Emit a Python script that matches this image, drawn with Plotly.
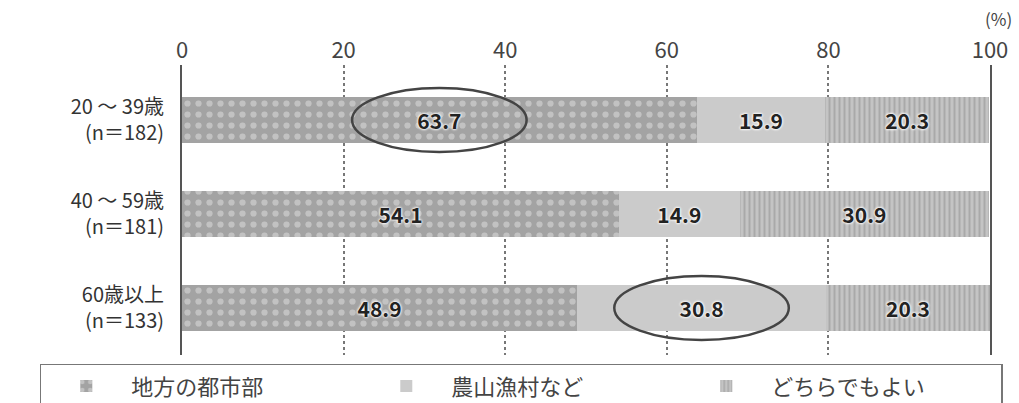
import plotly.graph_objects as go

categories = ["20 〜 39歳<br>(n＝182)", "40 〜 59歳<br>(n＝181)", "60歳以上<br>(n＝133)"]
series_names = ["地方の都市部", "農山漁村など", "どちらでもよい"]
city = [63.7, 54.1, 48.9]
rural = [15.9, 14.9, 30.8]
either = [20.3, 30.9, 20.3]
tick_vals = [0, 20, 40, 60, 80, 100]

FONT = "Noto Sans CJK JP"
label_font = dict(family=FONT, size=21, color="#222", weight="bold",
                  shadow="0px 0px 3px white, 0px 0px 3px white, 0px 0px 2px white")

fig = go.Figure()
styles = [
    dict(color="#a3a3a3", pattern=dict(shape=".", fgcolor="#e2e2e2", bgcolor="#a3a3a3", size=11, solidity=0.25)),
    dict(color="#cbcbcb"),
    dict(color="#bdbdbd", pattern=dict(shape="|", fgcolor="#8e8e8e", bgcolor="#c4c4c4", size=5, solidity=0.4)),
]
for name, vals, st in zip(series_names, [city, rural, either], styles):
    fig.add_trace(go.Bar(
        y=categories, x=vals, name=name, orientation="h",
        marker=dict(line=dict(width=0), **st),
        text=[f"{v:.1f}" for v in vals], textposition="inside",
        insidetextanchor="middle", textfont=label_font,
        hoverinfo="skip",
    ))

# highlight ellipses around notable values
def ellipse(row, x0, x1):
    fig.add_shape(type="circle", xref="x", yref="y", x0=x0, x1=x1,
                  y0=row - 0.34, y1=row + 0.34,
                  line=dict(color="#444", width=2.5), layer="above")

ellipse(0, city[0] / 2 - 10.8, city[0] / 2 + 10.8)
ellipse(2, city[2] + rural[2] / 2 - 10.8, city[2] + rural[2] / 2 + 10.8)

fig.add_annotation(text="(%)", xref="x", yref="paper", x=100, xshift=8, y=1.0, yshift=47,
                   yanchor="middle", showarrow=False,
                   font=dict(family=FONT, size=17, color="#444"))

fig.update_layout(
    barmode="stack", bargap=0.51,
    width=1019, height=403,
    margin=dict(l=182, r=29, t=65, b=48, autoexpand=False),
    plot_bgcolor="white", paper_bgcolor="white",
    font=dict(family=FONT, color="#333"),
    xaxis=dict(side="top", range=[0, 100], tickvals=tick_vals, ticktext=[str(t) for t in tick_vals],
               showgrid=True, gridcolor="#777", griddash="dot", gridwidth=1.5,
               zeroline=False, showline=False, ticks="", ticklabelstandoff=2,
               tickfont=dict(family=FONT, size=22, color="#444")),
    yaxis=dict(range=[2.5, -0.585], showline=True, mirror=True, linecolor="#555", linewidth=2,
               ticks="", ticklabelstandoff=12, showgrid=False,
               tickfont=dict(family=FONT, size=20, color="#333")),
    showlegend=True,
    legend=dict(orientation="h", x=-0.176, xanchor="left", y=-0.03, yanchor="top",
                bordercolor="#777", borderwidth=1.5, entrywidth=225, itemwidth=80,
                font=dict(family=FONT, size=22, color="#444"), traceorder="normal"),
)

fig.write_html("out.html")
